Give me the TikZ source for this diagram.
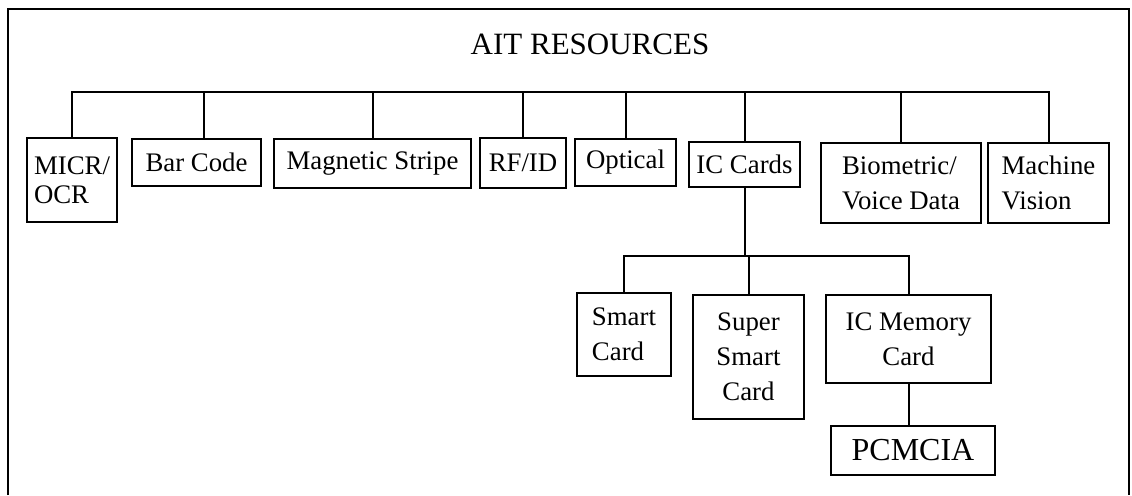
\documentclass[tikz,border=0pt]{standalone}
\usepackage{fontspec}
\setmainfont{Liberation Serif}
\usepackage{tikz}
\usetikzlibrary{calc}
\usetikzlibrary{positioning}

\begin{document}
\begin{tikzpicture}[
		x=1pt,
		y=1pt,
		font=\fontsize{13.4pt}{17.5pt}\selectfont,
		line width=1pt,
	]
		\tikzset{resbox/.style={
			draw,
			rectangle,
			inner sep=1,
			align=left,
		}}
		\tikzset{resboxc/.style={
			resbox,
			align=center,
		}}

		\useasboundingbox (0,0) rectangle (566,247.5);

		% open frame round the chart
		\draw (4,0) -- (4,243) -- (564.5,243) -- (564.5,0);

		\node[font=\fontsize{15.5pt}{17pt}\selectfont] (title) at (295,225.5) {AIT RESOURCES};

		% first level
		\node[
			resbox,
			minimum width=45,
			minimum height=42,
			font=\fontsize{13.4pt}{14.5pt}\selectfont,
		] (micr) at (36,157.5) {MICR/\\OCR};
		\node[
			resbox,
			minimum width=64.5,
			minimum height=23.5,
		] (barcode) at (98.25,166.25) {Bar Code};
		\node[
			resbox,
			minimum width=98.5,
			minimum height=24.5,
		] (magstripe) at (186.25,165.75) {Magnetic Stripe};
		\node[
			resbox,
			minimum width=43,
			minimum height=25,
		] (rfid) at (261.5,166) {RF/ID};
		\node[
			resbox,
			minimum width=50.5,
			minimum height=23.5,
		] (optical) at (312.75,166.25) {Optical};
		\node[
			resbox,
			minimum width=55.5,
			minimum height=22.5,
		] (iccards) at (372.25,165.25) {IC Cards};
		\node[
			resbox,
			minimum width=80,
			minimum height=40,
		] (biometric) at (450.5,156) {Biometric/\\Voice Data};
		\node[
			resbox,
			minimum width=60.5,
			minimum height=40,
		] (machine) at (524.25,156) {Machine\\Vision};

		% second level
		\node[
			resbox,
			minimum width=47,
			minimum height=41.5,
		] (smart) at (312,80.25) {Smart\\Card};
		\node[
			resboxc,
			minimum width=55.5,
			minimum height=62,
		] (supersmart) at (374.25,69) {Super\\Smart\\Card};
		\node[
			resboxc,
			minimum width=82.5,
			minimum height=44,
		] (icmem) at (454.25,78) {IC Memory\\Card};
		\node[
			resbox,
			minimum width=82,
			minimum height=24.5,
			font=\fontsize{16pt}{18pt}\selectfont,
		] (pcmcia) at (456.5,22.25) {PCMCIA};

		\coordinate (bus) at (0,201.5);
		\coordinate (subbus) at (0,119.5);

		\draw (micr.north) |- (bus -| machine.north) -- (machine.north);
		\draw ([xshift=3.5]barcode.north) -- ([xshift=3.5]barcode.north |- bus);
		\foreach \n in {magstripe,rfid,optical,iccards,biometric} {
			\draw (\n.north) -- (\n.north |- bus);
		}

		\draw (iccards.south) -- (iccards.south |- subbus);
		\draw (smart.north) |- (subbus -| icmem.north) -- (icmem.north);
		\draw (supersmart.north) -- (supersmart.north |- subbus);
		\draw (icmem.south) -- (icmem.south |- pcmcia.north);
	\end{tikzpicture}
\end{document}
